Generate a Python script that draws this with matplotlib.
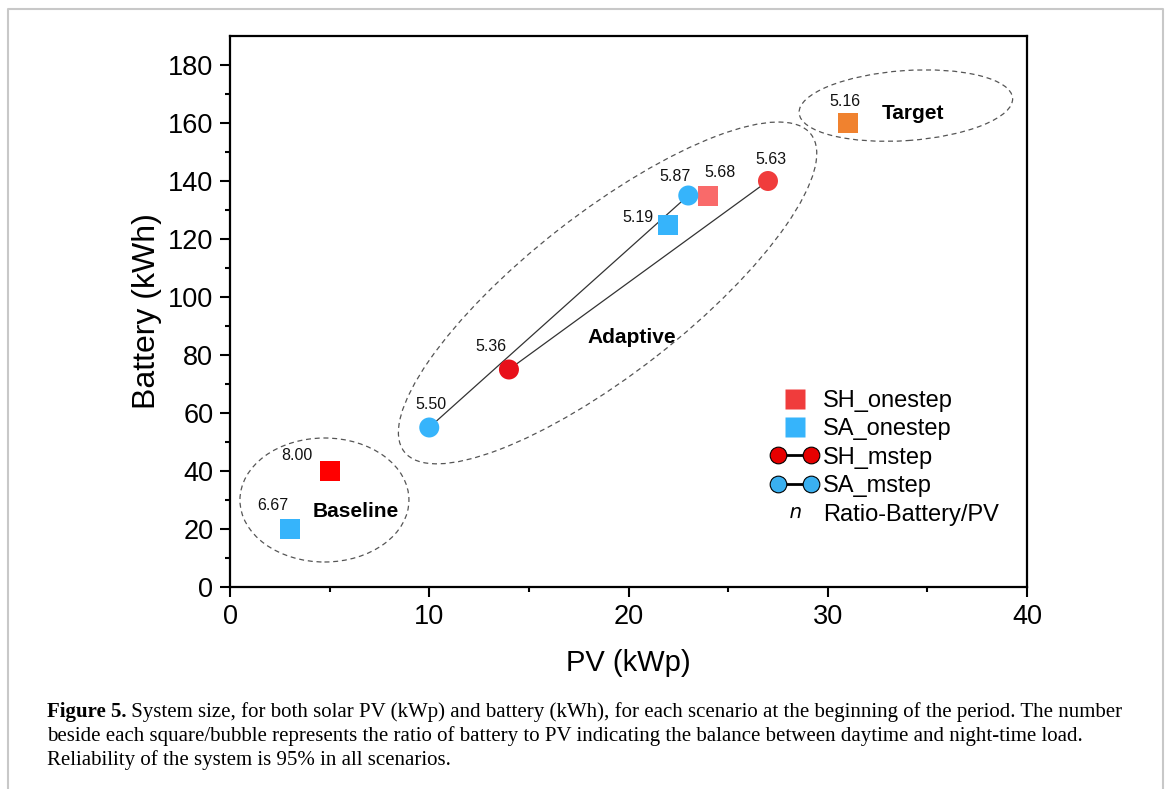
import matplotlib
matplotlib.use("Agg")
import matplotlib.pyplot as plt
from matplotlib.lines import Line2D
from matplotlib.patches import Ellipse
from matplotlib.legend_handler import HandlerLine2D
import matplotlib.transforms as mtransforms

plt.rcParams['font.family'] = ['Liberation Sans', 'DejaVu Sans']

# ---------------- data ----------------
sh_onestep_pv = [5, 24]
sh_onestep_batt = [40, 135]
sh_onestep_ratio = [8.00, 5.68]

sa_onestep_pv = [3, 22]
sa_onestep_batt = [20, 125]
sa_onestep_ratio = [6.67, 5.19]

sh_mstep_pv = [14, 27]
sh_mstep_batt = [75, 140]
sh_mstep_ratio = [5.36, 5.63]

sa_mstep_pv = [10, 23]
sa_mstep_batt = [55, 135]
sa_mstep_ratio = [5.50, 5.87]

target_pv = [31]
target_batt = [160]
target_ratio = [5.16]

x_ticks = [0, 10, 20, 30, 40]
y_ticks = [0, 20, 40, 60, 80, 100, 120, 140, 160, 180]
legend_labels = ["SH_onestep", "SA_onestep", "SH_mstep", "SA_mstep", "Ratio-Battery/PV"]

# ---------------- figure ----------------
W, H = 1170, 789
fig = plt.figure(figsize=(W / 100, H / 100), dpi=100)
ax = fig.add_axes([230 / W, 1 - 587 / H, (1027 - 230) / W, (587 - 36) / H])
ax.set_xlim(0, 40)
ax.set_ylim(0, 190)

RED = '#ff0000'
RED_L = '#f96a6a'
RED_C1 = '#e8101a'
RED_C2 = '#f03c3c'
BLUE = '#36b4fb'
ORANGE = '#f0822f'

# connecting lines for multi-step
ax.plot(sa_mstep_pv, sa_mstep_batt, color='#333333', lw=0.9, zorder=2)
ax.plot(sh_mstep_pv, sh_mstep_batt, color='#333333', lw=0.9, zorder=2)

ms = 14.4
ax.scatter(sh_onestep_pv, sh_onestep_batt, marker='s', s=ms ** 2,
           c=[RED, RED_L], edgecolors='none', zorder=3)
ax.scatter(sa_onestep_pv, sa_onestep_batt, marker='s', s=ms ** 2,
           c=BLUE, edgecolors='none', zorder=3)
ax.scatter(sh_mstep_pv, sh_mstep_batt, marker='o', s=ms ** 2,
           c=[RED_C1, RED_C2], edgecolors='none', zorder=4)
ax.scatter(sa_mstep_pv, sa_mstep_batt, marker='o', s=ms ** 2,
           c=BLUE, edgecolors='none', zorder=4)
ax.scatter(target_pv, target_batt, marker='s', s=ms ** 2,
           c=ORANGE, edgecolors='none', zorder=3)

# ratio labels (offsets in pixels -> points)
px = 72 / 100.0
def lab(xs, ys, rs, offs):
    for x, y, r, (dx, dy) in zip(xs, ys, rs, offs):
        ax.annotate(f"{r:.2f}", (x, y), xytext=(dx * px, dy * px),
                    textcoords='offset points', ha='center', va='center',
                    fontsize=11.5, color='#111111', zorder=5)

lab(sh_onestep_pv, sh_onestep_batt, sh_onestep_ratio, [(-33, 16), (12, 23)])
lab(sa_onestep_pv, sa_onestep_batt, sa_onestep_ratio, [(-17, 24), (-30, 7)])
lab(sh_mstep_pv, sh_mstep_batt, sh_mstep_ratio, [(-18, 23), (3, 21)])
lab(sa_mstep_pv, sa_mstep_batt, sa_mstep_ratio, [(2, 23), (-13, 19)])
lab(target_pv, target_batt, target_ratio, [(-3, 21)])

# dashed group ellipses (size in pixels, centre in data)
def group_ellipse(cx, cy, w_px, h_px, angle):
    trans = mtransforms.Affine2D().scale(fig.dpi / 100.0) + \
        mtransforms.ScaledTranslation(cx, cy, ax.transData)
    e = Ellipse((0, 0), w_px, h_px, angle=angle, transform=trans,
                fill=False, edgecolor='#555555', lw=0.9,
                linestyle=(0, (4, 3)), zorder=1, clip_on=False)
    ax.add_patch(e)

group_ellipse(4.74, 30.0, 169, 124, 0)
group_ellipse(18.95, 101.4, 516, 160, 38)
group_ellipse(33.92, 166.0, 214, 70, 4)

ax.text(6.32, 26.2, "Baseline", fontsize=15, fontweight='bold', ha='center', va='center')
ax.text(34.3, 163.4, "Target", fontsize=15, fontweight='bold', ha='center', va='center')
ax.text(20.17, 85.9, "Adaptive", fontsize=15, fontweight='bold', ha='center', va='center')

# axes styling
ax.set_xticks(x_ticks)
ax.set_yticks(y_ticks)
ax.set_xticks([5, 15, 25, 35], minor=True)
ax.set_yticks([10, 30, 50, 70, 90, 110, 130, 150, 170], minor=True)
ax.tick_params(axis='both', which='major', direction='out', length=7, width=1.5,
               labelsize=19.5, pad=5)
ax.tick_params(axis='both', which='minor', direction='out', length=3.5, width=1.5)
for s in ax.spines.values():
    s.set_linewidth(1.6)
ax.set_xlabel("PV (kWp)", fontsize=21, labelpad=14)
ax.set_ylabel("Battery (kWh)", fontsize=23, labelpad=4)

# legend
h_sh1 = Line2D([], [], ls='none', marker='s', ms=14.4, mfc='#f03c3c', mec='none')
h_sa1 = Line2D([], [], ls='none', marker='s', ms=14.4, mfc=BLUE, mec='none')
h_sh2 = Line2D([], [], color='black', lw=2, marker='o', ms=12, mfc='#e60000', mec='black', mew=0.8)
h_sa2 = Line2D([], [], color='black', lw=2, marker='o', ms=12, mfc='#3ab0f0', mec='black', mew=0.8)
h_n = Line2D([], [], ls='none', marker=r'$\mathit{n}$', ms=8, color='black', mew=0)
one = HandlerLine2D(numpoints=1)
leg = ax.legend([h_sh1, h_sa1, h_sh2, h_sa2, h_n], legend_labels,
                handler_map={h_sh1: one, h_sa1: one, h_n: one},
                numpoints=2, frameon=False, fontsize=17,
                handlelength=2.0, handletextpad=0.2, labelspacing=0.27,
                borderpad=0, borderaxespad=0, loc='upper left',
                bbox_to_anchor=((771 - 230) / (1027 - 230), (587 - 390) / (587 - 36)))

# outer frame
fig.add_artist(Line2D([8 / W, 8 / W, 1163 / W, 1163 / W], [0, 1 - 9 / H, 1 - 9 / H, 0],
                      transform=fig.transFigure, color='#c8c8c8', lw=1.5))

# caption
fig.canvas.draw()
r = fig.canvas.get_renderer()
cap_fs = 15
y1 = 1 - 712 / H
t0 = fig.text(47 / W, y1, "Figure 5.", fontsize=cap_fs, fontweight='bold',
              family='Liberation Serif', va='center', ha='left')
bb = t0.get_window_extent(renderer=r)
fig.text(bb.x1 / W, y1, " System size, for both solar PV (kWp) and battery (kWh), for each scenario at the beginning of the period. The number",
         fontsize=cap_fs, family='Liberation Serif', va='center', ha='left')
fig.text(47 / W, 1 - 736 / H, "beside each square/bubble represents the ratio of battery to PV indicating the balance between daytime and night-time load.",
         fontsize=cap_fs, family='Liberation Serif', va='center', ha='left')
fig.text(47 / W, 1 - 760 / H, "Reliability of the system is 95% in all scenarios.",
         fontsize=cap_fs, family='Liberation Serif', va='center', ha='left')

fig.savefig("out.png", dpi=100)
